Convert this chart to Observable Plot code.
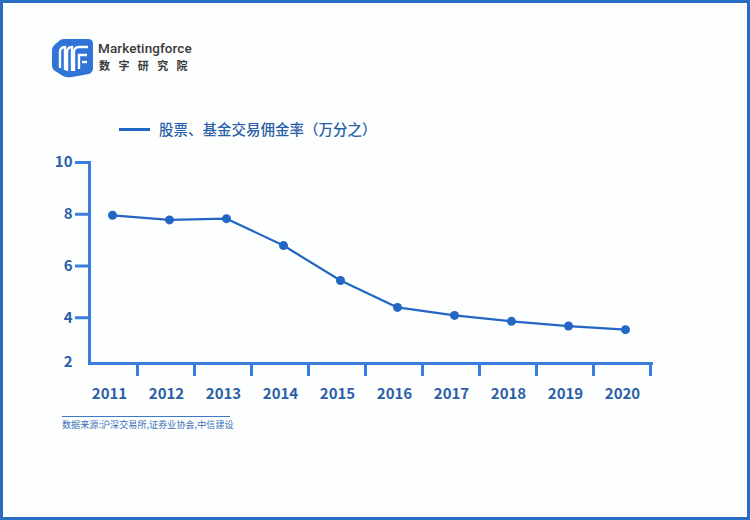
<!DOCTYPE html>
<html>
<head>
<meta charset="utf-8">
<script src="https://cdn.jsdelivr.net/npm/d3@7"></script>
<script src="https://cdn.jsdelivr.net/npm/@observablehq/plot@0.6"></script>
<style>
  html, body { margin: 0; padding: 0; background: #fdfefe; }
  body { width: 750px; height: 520px; position: relative; overflow: hidden; font-family: "Noto Sans CJK SC", "Noto Sans", sans-serif; }
  #border { position: absolute; left: 0; top: 0; width: 750px; height: 520px; box-sizing: border-box; border: 3px solid #2a6cc4; pointer-events: none; z-index: 5; }
  #chart { position: absolute; left: 0; top: 0; }
  #logo { position: absolute; left: 52px; top: 38px; }
  #brand { position: absolute; left: 98px; top: 41px; line-height: 14px; font-family: Roboto, "Noto Sans", sans-serif; font-weight: 500; font-size: 13.5px; color: #3a3a3a; letter-spacing: 0.1px; }
  #brandcn { position: absolute; left: 99px; top: 60px; line-height: 10px; font-size: 11px; font-weight: 600; color: #3a3a3a; letter-spacing: 8.4px; }
  #legend { position: absolute; left: 119px; top: 120px; display: flex; align-items: center; }
  #legend .sw { width: 31px; height: 3px; background: #2466c4; margin-right: 9px; }
  #legend .lt { font-size: 14.5px; line-height: 18px; font-weight: 500; color: #2b5fa8; }
  #srcline { position: absolute; left: 62px; top: 416px; width: 168px; height: 1px; background: #3f78c6; }
  #src { position: absolute; left: 62px; top: 419px; line-height: 12px; font-size: 9px; color: #3a6fb8; letter-spacing: 0.1px; }
</style>
</head>
<body>
<div id="border"></div>
<svg id="logo" width="42" height="40" viewBox="0 0 42 40">
  <path d="M6 4 Q8 1 12 1 L36 1 Q41 1 41 6 L41 30 Q41 34 37 36 L20 39 Q15 40 11 38 L3 33 Q0 31 0 27 L0 12 Q0 8 6 4 Z" fill="#2f74d6"/>
  <path d="M8 30 L8 14 Q8 9 13 9 L13 32" fill="none" stroke="#fff" stroke-width="2.4"/>
  <path d="M15 33 L15 14 Q15 9 20 9 L20 33" fill="none" stroke="#fff" stroke-width="2.4"/>
  <path d="M22 33 L22 14 Q22 9 27 9 L36 9" fill="none" stroke="#fff" stroke-width="2.4"/>
  <path d="M27 31 L27 17 L35 17" fill="none" stroke="#fff" stroke-width="2.4"/>
  <path d="M30 24 L35 24" fill="none" stroke="#fff" stroke-width="2.4"/>
</svg>
<div id="brand">Marketingforce</div>
<div id="brandcn">数字研究院</div>
<div id="legend"><div class="sw"></div><div class="lt">股票、基金交易佣金率（万分之）</div></div>
<div id="chart"></div>
<div id="srcline"></div>
<div id="src">数据来源:沪深交易所,证券业协会,中信建设</div>
<script>
const years = ["2011","2012","2013","2014","2015","2016","2017","2018","2019","2020"];
const rates = [7.96, 7.78, 7.83, 6.79, 5.44, 4.40, 4.09, 3.86, 3.68, 3.54];
const yTicks = [4, 6, 8, 10];
const yBottomLabel = [2];
const seriesName = "股票、基金交易佣金率（万分之）";

const data = years.map((y, i) => ({year: y, rate: rates[i]}));

const lineColor = "#2466c4";
const axisColor = "#3b7ddd";
const textColor = "#2b5fa8";

const chart = Plot.plot({
  width: 750,
  height: 420,
  marginLeft: 89,
  marginRight: 99,
  marginTop: 162,
  marginBottom: 57,
  style: {background: "transparent", fontFamily: "'Noto Sans CJK SC', 'Noto Sans', sans-serif"},
  x: {type: "point", domain: years, range: [108.3, 628.7], padding: 0},
  y: {domain: [2, 10], range: [369, 162]},
  marks: [
    Plot.frame({anchor: "left", stroke: axisColor, strokeWidth: 3}),
    Plot.frame({anchor: "bottom", stroke: axisColor, strokeWidth: 3}),
    Plot.axisY({ticks: yTicks, tickSize: 14, tickPadding: 3, stroke: axisColor, strokeWidth: 3,
      fill: textColor, fontSize: 15, fontWeight: 700, label: null}),
    Plot.axisY({ticks: yBottomLabel, tickSize: 0, tickPadding: 17, dy: -7,
      fill: textColor, fontSize: 15, fontWeight: 700, label: null}),
    Plot.axisX({tickSize: 13, tickFormat: () => "", dx: 25, stroke: axisColor, strokeWidth: 3, label: null}),
    Plot.axisX({tickSize: 0, tickPadding: 25, dx: -3, fill: textColor, fontSize: 15, fontWeight: 700, label: null}),
    Plot.line(data, {x: "year", y: "rate", stroke: lineColor, strokeWidth: 2.2}),
    Plot.dot(data, {x: "year", y: "rate", r: 4.5, fill: lineColor, stroke: "none"})
  ]
});
document.getElementById("chart").appendChild(chart);
</script>
</body>
</html>
